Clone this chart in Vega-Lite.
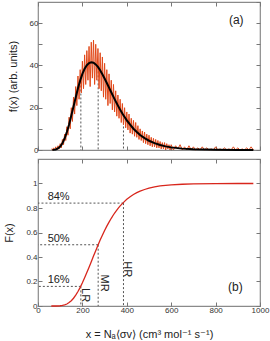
{
  "$schema": "https://vega.github.io/schema/vega-lite/v6.json",
  "padding": {"left": 3, "top": 0, "right": 0, "bottom": 0},
  "spacing": 2,
  "datasets": {
    "noise": [
      {"x":60,"f":0.5},{"x":65,"f":0},{"x":70,"f":1},{"x":75,"f":0},{"x":80,"f":1.5},{"x":85,"f":0},{"x":90,"f":2},{"x":95,"f":0.5},
      {"x":100,"f":3},{"x":105,"f":1},{"x":110,"f":5},{"x":115,"f":2.5},{"x":120,"f":7.5},{"x":125,"f":4.5},{"x":130,"f":11},{"x":135,"f":7},
      {"x":140,"f":15.5},{"x":145,"f":10},{"x":150,"f":20},{"x":155,"f":13.5},{"x":160,"f":25},{"x":165,"f":17},{"x":170,"f":30},{"x":175,"f":21},
      {"x":180,"f":35},{"x":185,"f":24},{"x":190,"f":38},{"x":195,"f":27},{"x":200,"f":42},{"x":205,"f":29},{"x":210,"f":45},{"x":215,"f":31},
      {"x":220,"f":47},{"x":225,"f":33},{"x":230,"f":49},{"x":235,"f":30},{"x":240,"f":51},{"x":245,"f":34},{"x":250,"f":52},{"x":255,"f":31},
      {"x":260,"f":50},{"x":265,"f":33},{"x":270,"f":48},{"x":275,"f":29},{"x":280,"f":46},{"x":285,"f":28},{"x":290,"f":44},{"x":295,"f":25},
      {"x":300,"f":41},{"x":305,"f":24},{"x":310,"f":38},{"x":315,"f":21},{"x":320,"f":36},{"x":325,"f":22},{"x":330,"f":33},{"x":335,"f":19},
      {"x":340,"f":31},{"x":345,"f":18},{"x":350,"f":28},{"x":355,"f":16},{"x":360,"f":26},{"x":365,"f":15},{"x":370,"f":24},{"x":375,"f":13},
      {"x":380,"f":22},{"x":385,"f":12},{"x":390,"f":20},{"x":395,"f":10.5},{"x":400,"f":18},{"x":405,"f":9.5},{"x":410,"f":17},{"x":415,"f":8},
      {"x":420,"f":15},{"x":425,"f":7.5},{"x":430,"f":14},{"x":435,"f":6.5},{"x":440,"f":13},{"x":445,"f":6},{"x":450,"f":11.5},{"x":455,"f":5},
      {"x":460,"f":10},{"x":465,"f":4.5},{"x":470,"f":9},{"x":475,"f":3.5},{"x":480,"f":8.5},{"x":485,"f":3},{"x":490,"f":7.5},{"x":495,"f":2.5},
      {"x":500,"f":7},{"x":505,"f":2},{"x":510,"f":6},{"x":515,"f":1.5},{"x":520,"f":5.5},{"x":525,"f":1.5},{"x":530,"f":5},{"x":535,"f":1},
      {"x":540,"f":4.5},{"x":545,"f":1},{"x":550,"f":4},{"x":555,"f":0.5},{"x":560,"f":3.5},{"x":565,"f":0.5},{"x":570,"f":3.5},{"x":575,"f":0},
      {"x":580,"f":3},{"x":585,"f":0.5},{"x":590,"f":2.5},{"x":595,"f":0},{"x":600,"f":2.5},
      {"x":610,"f":0},{"x":620,"f":2},{"x":630,"f":0.5},{"x":640,"f":2.5},{"x":650,"f":0},{"x":660,"f":1.5},{"x":670,"f":0},{"x":680,"f":2},
      {"x":690,"f":0},{"x":700,"f":1.5},{"x":710,"f":0},{"x":720,"f":1},{"x":730,"f":0},{"x":740,"f":1.5},{"x":750,"f":0},{"x":760,"f":1},
      {"x":770,"f":0},{"x":780,"f":0.5},{"x":790,"f":0},{"x":800,"f":1.5},{"x":810,"f":0},{"x":820,"f":0.5},{"x":830,"f":0},{"x":840,"f":1},
      {"x":850,"f":0},{"x":860,"f":0.5},{"x":870,"f":0},{"x":880,"f":1.5},{"x":890,"f":0},{"x":900,"f":1},{"x":910,"f":0},{"x":920,"f":0.5},
      {"x":930,"f":0},{"x":940,"f":1},{"x":950,"f":0},{"x":960,"f":1.5},{"x":970,"f":0}
    ],
    "pdf": [
      {"x":65,"f":0},{"x":70,"f":0.06},{"x":80,"f":0.25},{"x":90,"f":0.75},{"x":100,"f":1.63},{"x":110,"f":3.2},{"x":120,"f":5.44},
      {"x":130,"f":8.5},{"x":140,"f":12.1},{"x":150,"f":16.3},{"x":160,"f":20.6},{"x":170,"f":25.0},{"x":180,"f":29.2},{"x":190,"f":32.9},
      {"x":200,"f":36.0},{"x":210,"f":38.4},{"x":220,"f":40.1},{"x":230,"f":41.1},{"x":240,"f":41.5},{"x":250,"f":41.3},{"x":260,"f":40.5},
      {"x":270,"f":39.3},{"x":280,"f":37.7},{"x":290,"f":35.8},{"x":300,"f":33.8},{"x":310,"f":31.7},{"x":320,"f":29.5},{"x":330,"f":27.3},
      {"x":340,"f":25.1},{"x":350,"f":23.0},{"x":360,"f":21.0},{"x":370,"f":19.1},{"x":380,"f":17.25},{"x":390,"f":15.6},{"x":400,"f":14.0},
      {"x":415,"f":12.0},{"x":430,"f":10.06},{"x":445,"f":8.5},{"x":460,"f":7.1},{"x":480,"f":5.6},{"x":500,"f":4.38},{"x":525,"f":3.25},
      {"x":550,"f":2.35},{"x":575,"f":1.72},{"x":600,"f":1.24},{"x":650,"f":0.65},{"x":700,"f":0.34},{"x":750,"f":0.19},{"x":800,"f":0.1},
      {"x":900,"f":0.03},{"x":970,"f":0.01}
    ],
    "cdf": [
      {"x":60,"F":0},{"x":80,"F":0.0002},{"x":100,"F":0.0019},{"x":110,"F":0.0045},{"x":120,"F":0.0091},{"x":130,"F":0.0165},{"x":140,"F":0.0278},
      {"x":150,"F":0.0433},{"x":160,"F":0.0634},{"x":170,"F":0.0883},{"x":180,"F":0.118},{"x":190,"F":0.152},{"x":200,"F":0.189},{"x":210,"F":0.230},
      {"x":220,"F":0.273},{"x":230,"F":0.317},{"x":240,"F":0.362},{"x":250,"F":0.408},{"x":260,"F":0.452},{"x":270,"F":0.496},{"x":280,"F":0.538},
      {"x":290,"F":0.578},{"x":300,"F":0.616},{"x":310,"F":0.652},{"x":320,"F":0.685},{"x":330,"F":0.716},{"x":340,"F":0.745},{"x":350,"F":0.771},
      {"x":360,"F":0.795},{"x":370,"F":0.817},{"x":380,"F":0.836},{"x":390,"F":0.854},{"x":400,"F":0.871},{"x":415,"F":0.892},{"x":430,"F":0.910},
      {"x":445,"F":0.925},{"x":460,"F":0.9375},{"x":480,"F":0.951},{"x":500,"F":0.962},{"x":525,"F":0.972},{"x":550,"F":0.980},{"x":600,"F":0.989},
      {"x":650,"F":0.994},{"x":700,"F":0.997},{"x":800,"F":0.999},{"x":900,"F":1.0},{"x":970,"F":1.0}
    ],
    "drops": [
      {"name":"LR","x":193,"F":0.16,"f":34.3,"pct":"16%"},
      {"name":"MR","x":271,"F":0.5,"f":39.1,"pct":"50%"},
      {"name":"HR","x":385,"F":0.84,"f":16.8,"pct":"84%"}
    ]
  },
  "vconcat": [
    {
      "width": 222,
      "height": 148,
      "layer": [
        {
          "data": {"name": "drops"},
          "mark": {"type": "rule", "color": "#555555", "strokeDash": [2, 2], "strokeWidth": 1},
          "encoding": {
            "x": {"field": "x", "type": "quantitative", "axis": null},
            "y": {"field": "f", "type": "quantitative", "axis": null},
            "y2": {"datum": 0}
          }
        },
        {
          "data": {"name": "noise"},
          "mark": {"type": "line", "color": "#e2491a", "strokeWidth": 1},
          "encoding": {
            "x": {"field": "x", "type": "quantitative", "scale": {"domain": [0, 1000], "nice": false},
                  "axis": {"orient": "bottom", "labels": false, "title": null, "values": [0, 200, 400, 600, 800, 1000]}},
            "y": {"field": "f", "type": "quantitative", "scale": {"domain": [0, 70], "nice": false},
                  "axis": {"orient": "left", "values": [0, 10, 20, 30, 40, 50, 60],
                           "labelExpr": "datum.value % 20 === 0 ? datum.label : ''",
                           "title": "f(x)  (arb. units)"}}
          }
        },
        {
          "data": {"name": "pdf"},
          "mark": {"type": "line", "color": "#000000", "strokeWidth": 2},
          "encoding": {
            "x": {"field": "x", "type": "quantitative",
                  "axis": {"orient": "top", "labels": false, "title": null, "values": [0, 200, 400, 600, 800, 1000]}},
            "y": {"field": "f", "type": "quantitative",
                  "axis": {"orient": "right", "labels": false, "title": null, "values": [0, 10, 20, 30, 40, 50, 60, 70]}}
          }
        },
        {
          "data": {"values": [{}]},
          "mark": {"type": "text", "fontSize": 12, "font": "Liberation Sans", "color": "#222222", "align": "center", "baseline": "middle"},
          "encoding": {
            "x": {"datum": 893, "type": "quantitative", "axis": null},
            "y": {"datum": 61.3, "type": "quantitative", "axis": null},
            "text": {"value": "(a)"}
          }
        }
      ],
      "resolve": {"axis": {"x": "independent", "y": "independent"}}
    },
    {
      "width": 222,
      "height": 147,
      "layer": [
        {
          "data": {"name": "drops"},
          "mark": {"type": "rule", "color": "#555555", "strokeDash": [2, 2], "strokeWidth": 1},
          "encoding": {
            "x": {"field": "x", "type": "quantitative", "scale": {"domain": [0, 1000], "nice": false},
                  "axis": {"orient": "top", "labels": false, "title": null, "values": [0, 200, 400, 600, 800, 1000]}},
            "x2": {"datum": 0},
            "y": {"field": "F", "type": "quantitative", "scale": {"domain": [0, 1.2], "nice": false},
                  "axis": {"orient": "right", "labels": false, "title": null, "values": [0, 0.2, 0.4, 0.6, 0.8, 1, 1.2]}}
          }
        },
        {
          "data": {"name": "drops"},
          "mark": {"type": "rule", "color": "#555555", "strokeDash": [2, 2], "strokeWidth": 1},
          "encoding": {
            "x": {"field": "x", "type": "quantitative", "axis": null},
            "y": {"field": "F", "type": "quantitative", "axis": null},
            "y2": {"datum": 0}
          }
        },
        {
          "data": {"name": "cdf"},
          "mark": {"type": "line", "color": "#d8261c", "strokeWidth": 1.3},
          "encoding": {
            "x": {"field": "x", "type": "quantitative",
                  "axis": {"orient": "bottom", "values": [0, 200, 400, 600, 800, 1000], "format": "d", "title": "x = Nₐ⟨σv⟩   (cm³ mol⁻¹ s⁻¹)"}},
            "y": {"field": "F", "type": "quantitative",
                  "axis": {"orient": "left", "values": [0, 0.2, 0.4, 0.6, 0.8, 1], "format": "~g", "title": "F(x)", "labelPadding": 5}}
          }
        },
        {
          "data": {"name": "drops"},
          "mark": {"type": "text", "fontSize": 11, "font": "Liberation Sans", "color": "#222222", "align": "center", "baseline": "middle", "dy": -6},
          "encoding": {
            "x": {"datum": 93, "type": "quantitative", "axis": null},
            "y": {"field": "F", "type": "quantitative", "axis": null},
            "text": {"field": "pct"}
          }
        },
        {
          "data": {"values": [{}]},
          "mark": {"type": "text", "fontSize": 11, "font": "Liberation Sans", "color": "#222222", "align": "center", "baseline": "middle", "angle": 90},
          "encoding": {
            "x": {"datum": 213, "type": "quantitative", "axis": null},
            "y": {"datum": 0.089, "type": "quantitative", "axis": null},
            "text": {"value": "LR"}
          }
        },
        {
          "data": {"values": [{}]},
          "mark": {"type": "text", "fontSize": 11, "font": "Liberation Sans", "color": "#222222", "align": "center", "baseline": "middle", "angle": 90},
          "encoding": {
            "x": {"datum": 298, "type": "quantitative", "axis": null},
            "y": {"datum": 0.187, "type": "quantitative", "axis": null},
            "text": {"value": "MR"}
          }
        },
        {
          "data": {"values": [{}]},
          "mark": {"type": "text", "fontSize": 11, "font": "Liberation Sans", "color": "#222222", "align": "center", "baseline": "middle", "angle": 90},
          "encoding": {
            "x": {"datum": 401, "type": "quantitative", "axis": null},
            "y": {"datum": 0.30, "type": "quantitative", "axis": null},
            "text": {"value": "HR"}
          }
        },
        {
          "data": {"values": [{}]},
          "mark": {"type": "text", "fontSize": 12, "font": "Liberation Sans", "color": "#222222", "align": "center", "baseline": "middle"},
          "encoding": {
            "x": {"datum": 889, "type": "quantitative", "axis": null},
            "y": {"datum": 0.155, "type": "quantitative", "axis": null},
            "text": {"value": "(b)"}
          }
        }
      ],
      "resolve": {"axis": {"x": "independent", "y": "independent"}}
    }
  ],
  "config": {
    "view": {"stroke": "#8a8a8a", "strokeWidth": 1.2},
    "axis": {
      "domain": false,
      "grid": false,
      "tickSize": -4,
      "tickColor": "#777777",
      "labelPadding": 4,
      "labelFlush": false,
      "labelFont": "Liberation Sans",
      "labelFontSize": 8,
      "labelColor": "#333333",
      "titleFont": "Liberation Sans",
      "titleFontSize": 11,
      "titleFontWeight": "normal",
      "titleColor": "#222222",
      "titlePadding": 11
    },
    "axisX": {"labelPadding": 4, "titlePadding": 14}
  }
}
